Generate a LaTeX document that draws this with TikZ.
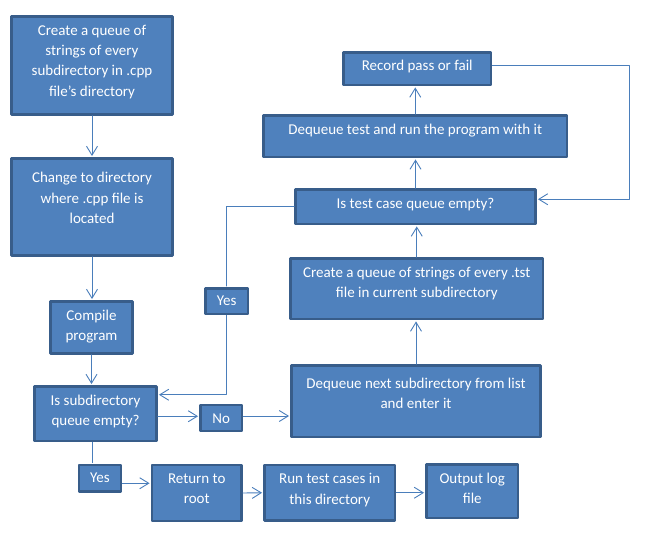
\documentclass[tikz,border=0pt]{standalone}
\usepackage{fontspec}
\setmainfont{Carlito}
\usetikzlibrary{arrows.meta,positioning,fit}
\definecolor{boxfill}{HTML}{4F81BD}
\definecolor{boxline}{HTML}{385D8A}
\definecolor{connline}{HTML}{4A7EBB}
\begin{document}
\begin{tikzpicture}[x=1pt,y=-1pt,>={Straight Barb[length=9pt,width=11pt]},
	font=\fontsize{15}{20.3}\selectfont, line join=round, line cap=round,
	box/.style={draw=boxline, fill=boxfill, line width=2.5pt, inner sep=0pt},
	boxtext/.style={text=white, align=center, inner sep=0pt},
	conn/.style={draw=connline, line width=0.9pt, shorten >=1.2pt}]
	\useasboundingbox (0,0) rectangle (656,553);
	% boxes
	\node[box, fit={(11.5,16.5) (172.5,114.5)}] (create) {};
	\node[box, fit={(11.5,158.5) (172.5,255.5)}] (chdir) {};
	\node[box, fit={(50.5,301.5) (132.5,353.5)}] (compile) {};
	\node[box, fit={(34.5,386.5) (156.5,441)}] (subq) {};
	\node[box, fit={(200.5,405) (242,431)}] (no) {};
	\node[box, fit={(79,465) (121,491.5)}] (yesB) {};
	\node[box, fit={(152,465) (241.5,521)}] (root) {};
	\node[box, fit={(264.5,465) (395,520.5)}] (run) {};
	\node[box, fit={(426.5,464.5) (518,518)}] (outlog) {};
	\node[box, fit={(291.5,365.5) (540.5,437)}] (deqsub) {};
	\node[box, fit={(290.5,258.5) (543,319)}] (mktst) {};
	\node[box, fit={(295.5,189.5) (535.5,224)}] (tstq) {};
	\node[box, fit={(263.5,115.5) (567,157)}] (deqtst) {};
	\node[box, fit={(343.5,52.5) (491,85)}] (record) {};
	\node[box, fit={(205.5,288.5) (248,314)}] (yesM) {};
	% texts
	\node[boxtext, below=9.5pt of create.north] (create-t) {Create a queue of\\strings of every\\subdirectory in .cpp\\file’s directory};
	\node[boxtext, below=15pt of chdir.north] (chdir-t) {Change to directory\\where .cpp file is\\located};
	\node[boxtext, below=9.5pt of compile.north] (compile-t) {Compile\\program};
	\node[boxtext, below=9.5pt of subq.north] (subq-t) {Is subdirectory\\queue empty?};
	\node[boxtext, below=9.5pt of no.north] (no-t) {No};
	\node[boxtext, below=9pt of yesB.north] (yesB-t) {Yes};
	\node[boxtext, below=9.5pt of root.north] (root-t) {Return to\\root};
	\node[boxtext, below=9.5pt of run.north] (run-t) {Run test cases in\\this directory};
	\node[boxtext, below=9.5pt of outlog.north] (outlog-t) {Output log\\file};
	\node[boxtext, below=13.5pt of deqsub.north] (deqsub-t) {Dequeue next subdirectory from list\\and enter it};
	\node[boxtext, below=9.5pt of mktst.north] (mktst-t) {Create a queue of strings of every .tst\\file in current subdirectory};
	\node[boxtext, below=9.5pt of tstq.north] (tstq-t) {Is test case queue empty?};
	\node[boxtext, below=9.5pt of deqtst.north] (deqtst-t) {Dequeue test and run the program with it};
	\node[boxtext, below=8.5pt of record.north] (record-t) {Record pass or fail};
	\node[boxtext, below=8.5pt of yesM.north] (yesM-t) {Yes};
	% connectors
	\draw[conn,->] (create) -- (chdir);
	\draw[conn,->] (chdir.south) -- (chdir.south |- compile.north);
	\draw[conn,->] (compile.south) -- (compile.south |- subq.north);
	\draw[conn,->] ([yshift=-2.5pt]subq.east) -- ([yshift=-2.5pt]subq.east -| no.west);
	\draw[conn,->] ([yshift=2pt]no.east) -- ([yshift=2pt]no.east -| deqsub.west);
	\draw[conn,->] (deqsub.north) -- (deqsub.north |- mktst.south);
	\draw[conn,->] (mktst.north) -- (mktst.north |- tstq.south);
	\draw[conn,->] (tstq.north) -- (tstq.north |- deqtst.south);
	\draw[conn,->] (deqtst.north) -- (deqtst.north |- record.south);
	\draw[conn,->] ([yshift=3.5pt]record.east) -- ++(137,0) |- ([yshift=7.5pt]tstq.east);
	\draw[conn] (tstq.west) -| (yesM.north);
	\draw[conn,->] (yesM.south) |- ([yshift=19pt]subq.east);
	\draw[conn] ([xshift=-3pt]subq.south) -- ([xshift=-3pt]subq.south |- yesB.north);
	\draw[conn,->] ([yshift=-5pt]yesB.east) -- ([yshift=-5pt]yesB.east -| root.west);
	\draw[conn,->] (root.east) -- (run.west);
	\draw[conn,->] (run.east) -- (run.east -| outlog.west);
\end{tikzpicture}
\end{document}
